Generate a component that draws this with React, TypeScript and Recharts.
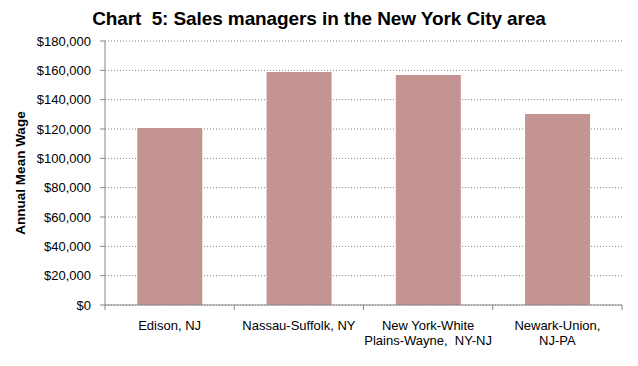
import { BarChart, Bar, XAxis, YAxis, CartesianGrid } from 'recharts';

const areas = ['Edison, NJ', 'Nassau-Suffolk, NY', 'New York-White Plains-Wayne, NY-NJ', 'Newark-Union, NJ-PA'];
const areaLines = [['Edison, NJ'], ['Nassau-Suffolk, NY'], ['New York-White', 'Plains-Wayne,  NY-NJ'], ['Newark-Union,', 'NJ-PA']];
const wages = [120700, 158900, 156800, 130200];
const yTicks = [0, 20000, 40000, 60000, 80000, 100000, 120000, 140000, 160000, 180000];

const data = areas.map((name, i) => ({ name, wage: wages[i] }));

const fmt = (v: number) => '$' + v.toLocaleString('en-US');

const AXIS_GREY = '#868686';
const FONT = "Arial, 'Liberation Sans', sans-serif";

function CategoryTick(props: any) {
  const { x, y, payload, index } = props;
  const half = payload.offset ?? 0;
  const lines = areaLines[index] ?? [payload.value];
  return (
    <g>
      <line x1={x - half} x2={x - half} y1={y} y2={y + 5} stroke={AXIS_GREY} />
      {index === areas.length - 1 && (
        <line x1={x + half} x2={x + half} y1={y} y2={y + 5} stroke={AXIS_GREY} />
      )}
      <text x={x} y={y + 25} textAnchor="middle" fontSize={13} fill="#000" fontFamily={FONT} style={{ whiteSpace: 'pre' }}>
        {lines.map((l: string, k: number) => (
          <tspan key={k} x={x} dy={k === 0 ? 0 : 15}>{l}</tspan>
        ))}
      </text>
    </g>
  );
}

function YLabel(props: any) {
  const { viewBox } = props;
  const cx = 20;
  const cy = viewBox.y + viewBox.height / 2;
  return (
    <text
      x={cx}
      y={cy}
      transform={`rotate(-90, ${cx}, ${cy})`}
      textAnchor="middle"
      dominantBaseline="central"
      fontSize={13.5}
      fontWeight="bold"
      fill="#000"
      fontFamily={FONT}
    >
      Annual Mean Wage
    </text>
  );
}

export default function App() {
  return (
    <div style={{ position: 'absolute', left: 0, top: 0, width: 638, height: 366, background: '#fff', fontFamily: FONT }}>
      <div
        style={{
          position: 'absolute',
          left: 0,
          top: 8,
          width: 638,
          textAlign: 'center',
          fontSize: 19,
          fontWeight: 'bold',
          color: '#000',
          whiteSpace: 'pre',
          letterSpacing: -0.1,
        }}
      >
        {'Chart  5: Sales managers in the New York City area'}
      </div>
      <BarChart
        width={638}
        height={366}
        data={data}
        margin={{ top: 41, right: 16, bottom: 11, left: 10 }}
        barCategoryGap="25%"
      >
        <CartesianGrid vertical={false} stroke="#808080" strokeDasharray="1 2" />
        <XAxis
          dataKey="name"
          height={50}
          axisLine={{ stroke: AXIS_GREY }}
          tickLine={false}
          tickSize={0}
          tickMargin={0}
          interval={0}
          tick={<CategoryTick />}
        />
        <YAxis
          width={95}
          domain={[0, 180000]}
          ticks={yTicks}
          interval={0}
          tickFormatter={fmt}
          axisLine={{ stroke: AXIS_GREY }}
          tickLine={{ stroke: AXIS_GREY }}
          tickSize={5}
          tickMargin={9}
          tick={{ fontSize: 13, fill: '#000', fontFamily: FONT }}
          label={<YLabel />}
        />
        <Bar dataKey="wage" fill="#C49492" isAnimationActive={false} />
      </BarChart>
    </div>
  );
}
